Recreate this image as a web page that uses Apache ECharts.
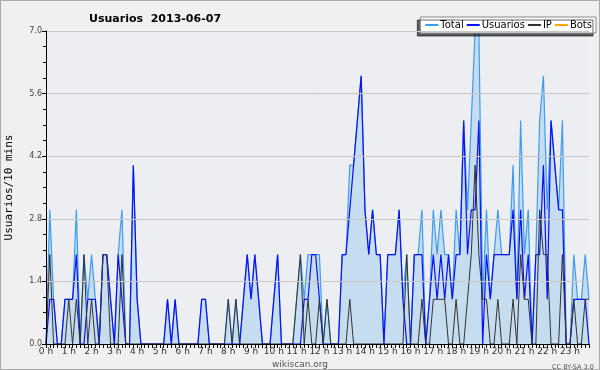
<!DOCTYPE html>
<html><head><meta charset="utf-8">
<script src="https://cdn.jsdelivr.net/npm/echarts@6/dist/echarts.min.js"></script>
<style>html,body{margin:0;padding:0;background:#f0f0f0;}#c{width:600px;height:370px;}</style>
</head><body><div id="c"></div>
<script>
const hourLabels = ['0 h','1 h','2 h','3 h','4 h','5 h','6 h','7 h','8 h','9 h','10 h','11 h','12 h','13 h','14 h','15 h','16 h','17 h','18 h','19 h','20 h','21 h','22 h','23 h'];
const yTicks = [0, 1.4, 2.8, 4.2, 5.6, 7.0];
// 10-minute slots, 6 per hour (one row of 4 hours per line)
const usuarios = [
 0,1,1,0,0,1,  1,1,2,0,0,1,  1,1,0,2,2,1,  0,2,1,0,0,4,
 1,0,0,0,0,0,  0,0,1,0,1,0,  0,0,0,0,0,1,  1,0,0,0,0,0,
 0,0,0,0,1,2,  1,2,1,0,0,0,  1,2,0,0,0,0,  0,0,1,1,2,2,
 1,0,0,0,0,0,  2,2,3,4,5,6,  3,2,3,2,2,0,  2,2,2,3,1,0,
 0,2,2,2,0,1,  2,1,2,1,2,1,  2,2,5,2,3,3,  5,0,2,1,2,2,
 2,2,2,3,1,3,  1,2,0,2,2,4,  1,5,4,3,3,0,  0,1,1,1,1,0
];
const ip = [
 0,2,0,0,0,0,  1,0,1,0,2,0,  1,0,0,2,2,0,  0,0,2,0,0,0,
 0,0,0,0,0,0,  0,0,0,0,0,0,  0,0,0,0,0,0,  0,0,0,0,0,0,
 1,0,1,0,0,0,  0,0,0,0,0,0,  0,0,0,0,0,0,  1,2,0,1,0,0,
 1,0,1,0,0,0,  0,0,1,0,0,0,  0,0,0,0,0,0,  0,0,0,0,0,2,
 0,0,0,1,0,0,  1,1,1,1,0,0,  1,0,0,1,2,4,  2,1,1,0,0,1,
 0,0,0,1,0,2,  1,1,0,0,3,2,  2,0,0,0,2,0,  0,1,0,0,1,1
];
const total = [
 0,3,1,0,0,1,  1,1,3,0,2,1,  2,1,0,2,2,1,  0,2,3,0,0,4,
 1,0,0,0,0,0,  0,0,1,0,1,0,  0,0,0,0,0,1,  1,0,0,0,0,0,
 1,0,1,0,1,2,  1,2,1,0,0,0,  1,2,0,0,0,0,  1,2,1,2,2,2,
 2,0,1,0,0,0,  2,2,4,4,5,6,  3,2,3,2,2,0,  2,2,2,3,1,2,
 0,2,2,3,0,1,  3,2,3,2,2,1,  3,2,5,3,5,7,  7,1,3,1,2,3,
 2,2,2,4,1,5,  2,3,0,2,5,6,  3,5,4,3,5,0,  0,2,1,1,2,1
];
const bots = [
 0,0,0,0,0,0,  0,0,0,0,0,0,  0,0,0,0,0,0,  0,0,0,0,0,0,
 0,0,0,0,0,0,  0,0,0,0,0,0,  0,0,0,0,0,0,  0,0,0,0,0,0,
 0,0,0,0,0,0,  0,0,0,0,0,0,  0,0,0,0,0,0,  0,0,0,0,0,0,
 0,0,0,0,0,0,  0,0,0,0,0,0,  0,0,0,0,0,0,  0,0,0,0,0,0,
 0,0,0,0,0,0,  0,0,0,0,0,0,  0,0,0,0,0,0,  0,0,0,0,0,0,
 0,0,0,0,0,0,  0,0,0,0,0,0,  0,0,0,0,0,0,  0,0,0,0,0,0
];
const slots = [];
for (let h = 0; h < 24; h++) for (let m = 0; m < 60; m += 10) slots.push(h + ':' + (m < 10 ? '0' : '') + m);

const chart = echarts.init(document.getElementById('c'), null, {renderer: 'canvas'});
chart.setOption({
  animation: false,
  backgroundColor: '#f0f0f0',
  title: [
    {text: 'Usuarios  2013-06-07', left: 84, top: 9, textStyle: {fontFamily: 'DejaVu Sans', fontSize: 11, fontWeight: 'bold', color: '#000'}},
    {text: 'wikiscan.org', left: 'center', top: 355, textStyle: {fontFamily: 'DejaVu Sans', fontSize: 9, fontWeight: 'normal', color: '#555'}},
    {text: 'CC BY-SA 3.0', left: 547, top: 359, textStyle: {fontFamily: 'DejaVu Sans', fontSize: 6.5, fontWeight: 'normal', color: '#555'}}
  ],
  legend: {
    right: 4, top: 17, itemGap: 3, itemWidth: 13, itemHeight: 2, icon: 'rect',
    padding: [3, 4, 3, 5],
    backgroundColor: '#ffffff', borderColor: '#888', borderWidth: 1,
    shadowColor: 'rgba(0,0,0,0.6)', shadowOffsetX: -3, shadowOffsetY: 3, shadowBlur: 0,
    textStyle: {fontFamily: 'DejaVu Sans', fontSize: 10, color: '#000', padding: [0,0,0,-3]},
    data: ['Total', 'Usuarios', 'IP', 'Bots']
  },
  grid: {left: 46, right: 11, top: 31, bottom: 26, outerBoundsMode: 'none', containLabel: false,
    show: true, backgroundColor: '#eceef1', borderWidth: 0},
  xAxis: {
    type: 'category', data: slots, boundaryGap: false, z: 10,
    axisLine: {lineStyle: {color: '#000', width: 1}},
    axisTick: {interval: 0, length: 4, lineStyle: {color: '#000'}},
    axisLabel: {interval: 5, margin: 3, fontFamily: 'DejaVu Sans', fontSize: 9, color: '#333',
      formatter: (v, i) => hourLabels[Math.floor(i / 6)]},
    splitLine: {show: false}
  },
  yAxis: {
    type: 'value', min: 0, max: 7, interval: 1.4, z: 10,
    name: 'Usuarios/10 mins', nameLocation: 'middle', nameGap: 31,
    nameTextStyle: {fontFamily: 'DejaVu Sans Mono', fontSize: 11, color: '#000'},
    axisLine: {show: true, lineStyle: {color: '#000'}},
    axisTick: {show: true, length: 4, lineStyle: {color: '#000'}},
    minorTick: {show: true, splitNumber: 4, length: 3, lineStyle: {color: '#000'}},
    axisLabel: {fontFamily: 'DejaVu Sans', fontSize: 8, color: '#444', margin: 4,
      formatter: v => { const t = yTicks.find(x => Math.abs(x - v) < 1e-6); return (t === undefined ? v : t).toFixed(1); }},
    splitLine: {lineStyle: {color: '#c8c8c8', width: 1}}
  },
  series: [
    {name: 'Total', type: 'line', data: total, symbol: 'none', z: 2,
      lineStyle: {color: '#3c9cf0', width: 1.2}, itemStyle: {color: '#3c9cf0'},
      areaStyle: {color: '#c6dcef', opacity: 1}},
    {name: 'Usuarios', type: 'line', data: usuarios, symbol: 'none', z: 3,
      lineStyle: {color: '#0a10f5', width: 1.2}, itemStyle: {color: '#0a10f5'}},
    {name: 'IP', type: 'line', data: ip, symbol: 'none', z: 4,
      lineStyle: {color: '#333333', width: 1}, itemStyle: {color: '#333333'}},
    {name: 'Bots', type: 'line', data: bots, symbol: 'none', z: 1,
      lineStyle: {color: '#ffa500', width: 1}, itemStyle: {color: '#ffa500'}}
  ],
  graphic: [
    {type: 'rect', shape: {x: 0.5, y: 0.5, width: 599, height: 369}, style: {fill: 'none', stroke: '#aaa', lineWidth: 1}, silent: true}
  ]
});
</script></body></html>
